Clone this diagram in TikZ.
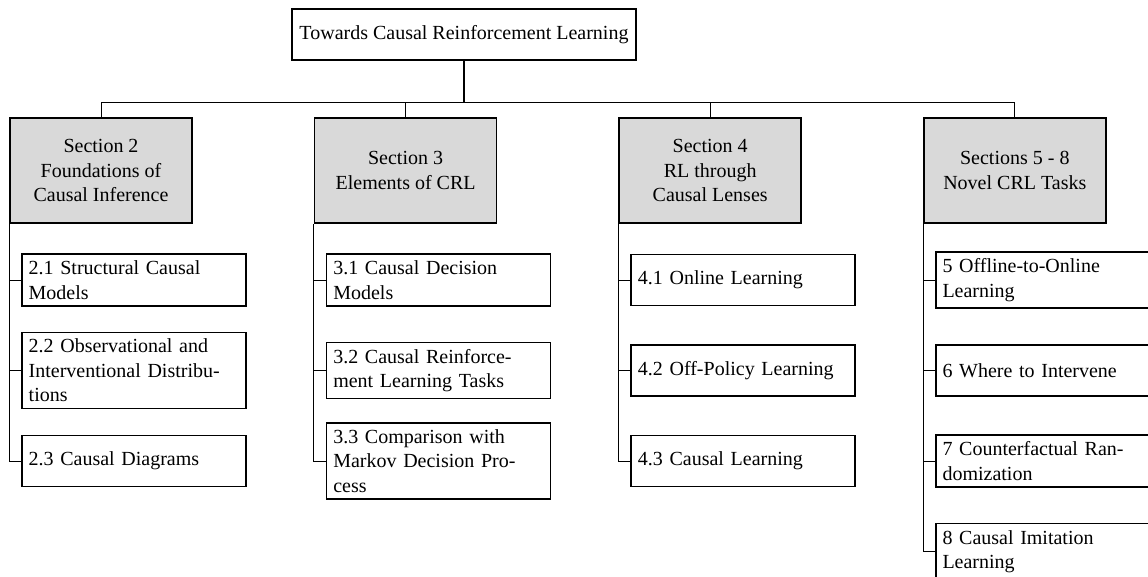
\documentclass[tikz,border=0pt]{standalone}
\usepackage{fontspec}
\setmainfont{Liberation Serif}
\usepackage{xcolor}
\usepackage{tikz}
\usetikzlibrary{calc}
\usetikzlibrary{positioning}

\begin{document}
\begin{tikzpicture}[-,auto,node distance=45.25pt,thin,font=\fontsize{10}{12.25}\selectfont]
  \tikzstyle{top}=[draw, thick, rectangle, minimum width=172pt, minimum height=25.5pt, inner sep=0pt]
  \tikzstyle{sec}=[draw, thick, rectangle, fill=gray!30, minimum width=91pt, minimum height=52.5pt, align=center, inner sep=0pt]
  \tikzstyle{sub}=[draw, thick, rectangle, fill=white, text width=105.3pt, minimum height=25.5pt, align=left, inner sep=3.33pt]
  \useasboundingbox (0,0) rectangle (574pt,-288.5pt);

  \node[top]  (T)   at (232pt,-17.25pt)   {Towards Causal Reinforcement Learning};
  \node[sec]  (S2)  at (50.5pt,-85.25pt)  {Section 2\\Foundations of\\Causal Inference};
  \node[sec]  (S3)  [right=60.5pt of S2]  {Section 3\\Elements of CRL};
  \node[sec]  (S4)  [right=60.5pt of S3]  {Section 4\\RL through\\Causal Lenses};
  \node[sec]  (S5)  [right=60.5pt of S4]  {Sections 5 - 8\\Novel CRL Tasks};

  % section 2
  \node[sub]  (S21) [node distance=54.75pt, below of=S2, xshift=16.5pt] {2.1 Structural Causal\\Models};
  \node[sub]  (S22) [below of=S21] {2.2 Observational and\\Interventional Distribu-\\tions};
  \node[sub]  (S23) [below of=S22] {2.3 Causal Diagrams};
  % section 3
  \node[sub]  (S31) [node distance=54.75pt, below of=S3, xshift=16.5pt] {3.1 Causal Decision\\Models};
  \node[sub]  (S32) [below of=S31] {3.2 Causal Reinforce-\\ment Learning Tasks};
  \node[sub]  (S33) [below of=S32] {3.3 Comparison with\\Markov Decision Pro-\\cess};
  % section 4
  \node[sub]  (S41) [node distance=54.75pt, below of=S4, xshift=16.5pt] {4.1 Online Learning};
  \node[sub]  (S42) [below of=S41] {4.2 Off-Policy Learning};
  \node[sub]  (S43) [below of=S42] {4.3 Causal Learning};
  % sections 5 - 8
  \node[sub]  (S51) [node distance=54.75pt, below of=S5, xshift=16.5pt] {5 Offline-to-Online\\Learning};
  \node[sub]  (S52) [below of=S51] {6 Where to Intervene};
  \node[sub]  (S53) [below of=S52] {7 Counterfactual Ran-\\domization};
  \node[sub]  (S54) [below of=S53] {8 Causal Imitation\\Learning};

  \coordinate (bus) at ([yshift=-21pt]T.south);
  \draw[thick] (T.south) -- (bus);
  \draw[semithick] (S2.north |- bus) -- (S5.north |- bus);
  \draw (S2.north) -- (S2.north |- bus);
  \draw (S3.north) -- (S3.north |- bus);
  \draw (S4.north) -- (S4.north |- bus);
  \draw (S5.north) -- (S5.north |- bus);

  \draw (S2.south west) |- (S23.west);
  \draw (S21.west) -- (S21.west -| S2.west);
  \draw (S22.west) -- (S22.west -| S2.west);
  \draw (S3.south west) |- (S33.west);
  \draw (S31.west) -- (S31.west -| S3.west);
  \draw (S32.west) -- (S32.west -| S3.west);
  \draw (S4.south west) |- (S43.west);
  \draw (S41.west) -- (S41.west -| S4.west);
  \draw (S42.west) -- (S42.west -| S4.west);
  \draw (S5.south west) |- (S54.west);
  \draw (S51.west) -- (S51.west -| S5.west);
  \draw (S52.west) -- (S52.west -| S5.west);
  \draw (S53.west) -- (S53.west -| S5.west);
\end{tikzpicture}
\end{document}
